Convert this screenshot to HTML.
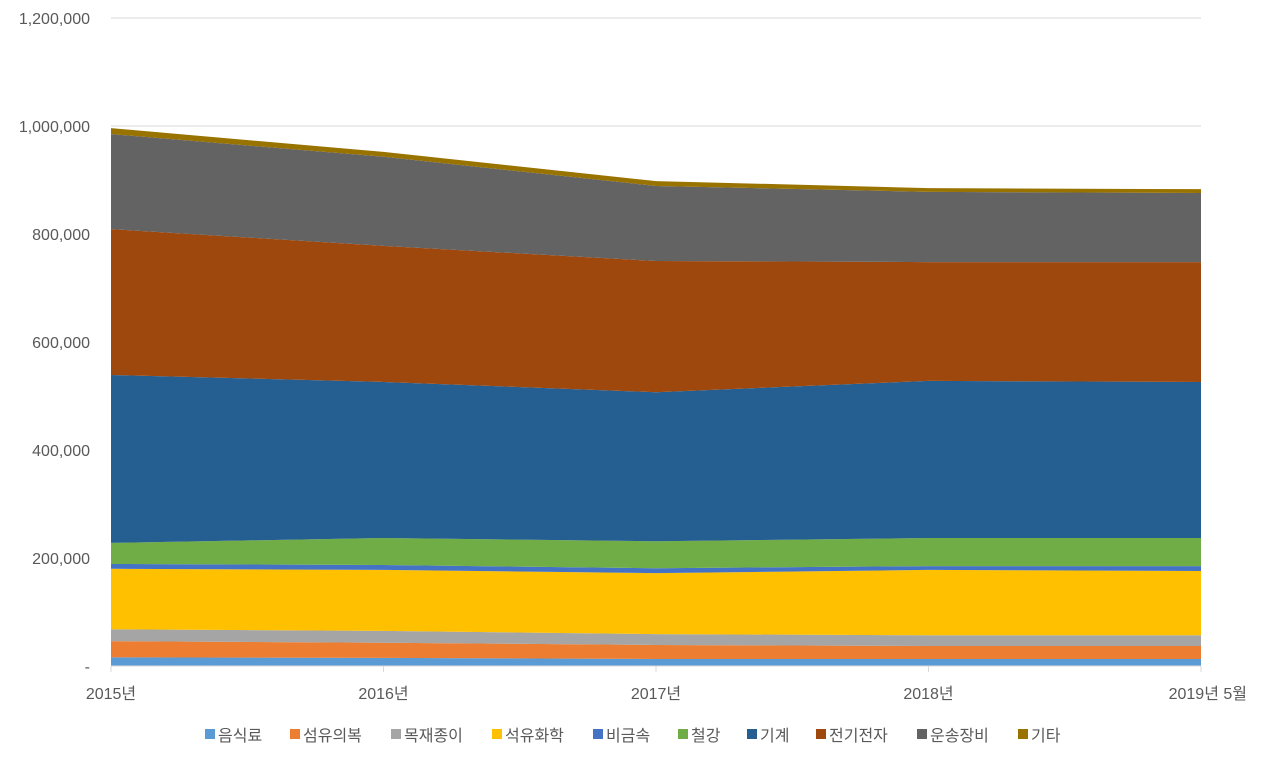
<!DOCTYPE html>
<html><head><meta charset="utf-8"><style>
body{margin:0;background:#fff;font-family:"Liberation Sans","Noto Sans CJK KR",sans-serif;}
svg text{font-family:"Liberation Sans","Noto Sans CJK KR",sans-serif;fill:#595959;font-size:16px;}
</style></head><body>
<svg id="chart" width="1261" height="757" xmlns="http://www.w3.org/2000/svg"></svg>
<script>
const categories=["2015년","2016년","2017년","2018년","2019년 5월"];
const seriesNames=["음식료","섬유의복","목재종이","석유화학","비금속","철강","기계","전기전자","운송장비","기타"];
const colors=["#5b9bd5","#ed7d31","#a5a5a5","#ffc000","#4472c4","#70ad47","#255e91","#9e480e","#636363","#997300"];
const s0=[16000,15000,13000,13000,13000];
const s1=[30000,28000,26000,24000,24000];
const s2=[22000,22000,20000,20000,20000];
const s3=[112000,113000,113000,121000,119000];
const s4=[9000,9000,9000,7000,9000];
const s5=[39000,50000,50000,52000,52000];
const s6=[311000,289000,276000,291000,289000];
const s7=[270000,252000,243000,220000,222000];
const s8=[176000,165000,139000,130000,128000];
const s9=[11000,9000,9000,7000,7000];
const series=[s0,s1,s2,s3,s4,s5,s6,s7,s8,s9];
const yTicks=[0,200000,400000,600000,800000,1000000,1200000];
const yTickLabels=["-","200,000","400,000","600,000","800,000","1,000,000","1,200,000"];
const NS="http://www.w3.org/2000/svg";
const svg=document.getElementById('chart');
const x0=111,x1=1201,yBase=666,yTop=18,yMax=1200000;
const xs=i=>x0+(x1-x0)*i/(categories.length-1);
const ys=v=>yBase-(yBase-yTop)*v/yMax;
function mk(t,a){const e=document.createElementNS(NS,t);for(const k in a)e.setAttribute(k,a[k]);svg.appendChild(e);return e;}
yTicks.forEach((v,i)=>{
 if(v>0){const g=mk('line',{x1:x0,x2:x1,y1:ys(v),y2:ys(v),stroke:'#d9d9d9','stroke-width':1});
 
 }
 const t=mk('text',{x:90,y:ys(v)+6,'text-anchor':'end'});t.textContent=yTickLabels[i];
 
 
});
let cum=categories.map(()=>0);
series.forEach((s,k)=>{
 const lower=cum.slice();const upper=cum.map((c,i)=>c+s[i]);
 let d='M'+upper.map((v,i)=>xs(i)+','+ys(v)).join(' L');
 for(let i=categories.length-1;i>=0;i--)d+=' L'+xs(i)+','+ys(lower[i]);
 const p=mk('path',{d:d+'Z',fill:colors[k]});
 
 
 cum=upper;
});
const ax=mk('line',{x1:x0,x2:x1,y1:yBase,y2:yBase,stroke:'#d9d9d9'});


categories.forEach((c,i)=>{
 const tk=mk('line',{x1:xs(i),x2:xs(i),y1:yBase,y2:yBase+6,stroke:'#d9d9d9'});
 
 
 const last=i==categories.length-1;
 const t=mk('text',{x:last?1247:xs(i),y:699,'text-anchor':last?'end':'middle'});t.textContent=c;
 
 
});
const widths=seriesNames.map(n=>n.length*16+37);
let lx=205;
seriesNames.forEach((n,k)=>{
 const r=mk('rect',{x:lx,y:729,width:10,height:10,fill:colors[k]});
 
 
 const t=mk('text',{x:lx+13,y:741,'font-size':'17px'});t.textContent=n;
 
 
 lx+=widths[k];
});
</script>
</body></html>
